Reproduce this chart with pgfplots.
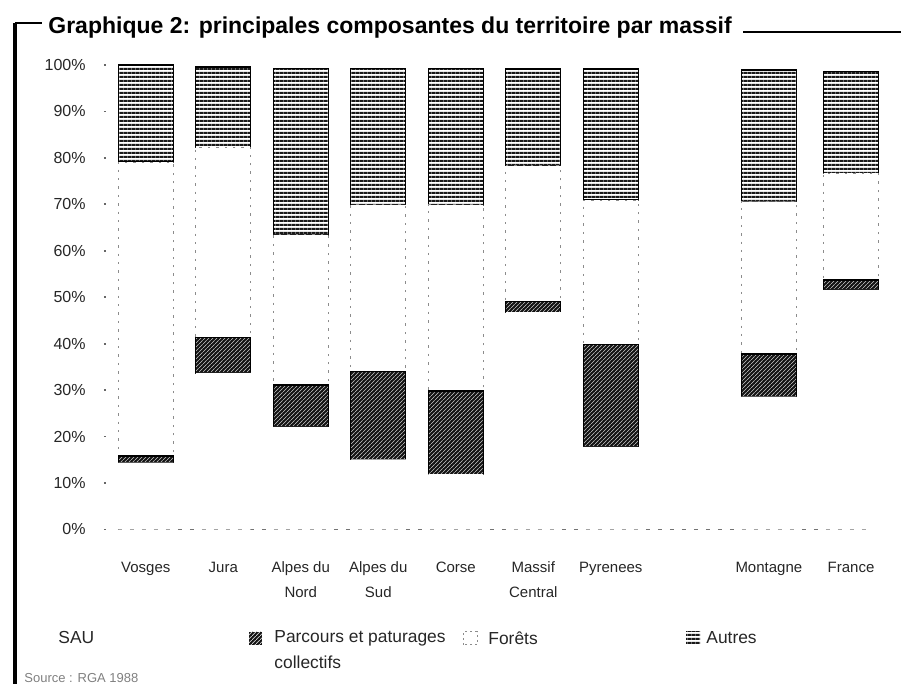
\documentclass[border=0pt]{standalone}
\usepackage{fontspec}
\setmainfont{Liberation Sans}
\usepackage{pgfplots}
\pgfplotsset{compat=1.18}
\usepackage{pgfplotstable}
\usetikzlibrary{patterns,patterns.meta}

\tikzdeclarepattern{
  name=denseh, type=uncolored,
  bottom left={(0pt,0pt)}, top right={(2pt,1.8pt)}, tile size={(2pt,1.8pt)},
  code={\draw[line width=1.1pt] (-0.2pt,0.6pt) -- (2.2pt,0.6pt);}
}
\tikzdeclarepattern{
  name=densediag, type=uncolored,
  bottom left={(0pt,0pt)}, top right={(1.8pt,1.8pt)}, tile size={(1.8pt,1.8pt)},
  code={\draw[line width=0.38pt] (-0.2pt,-0.2pt) -- (2pt,2pt);}
}

\pgfplotstableread{
x sau parc foret aut
0 14.4 1.4 63.3 20.9
1 33.7 7.7 40.9 17.3
2 22.1 9.0 32.3 35.9
3 15.1 18.9 35.9 29.4
4 11.9 17.9 40.1 29.4
5 46.8 2.2 29.3 20.8
6 17.8 22.1 31.0 28.2
8.04 28.6 9.2 32.8 28.3
9.1 51.6 2.1 23.0 21.9
}\data

\begin{document}
\begin{tikzpicture}
\useasboundingbox (0,0) rectangle (450.5pt,342pt);
\begin{axis}[
  at={(52.5pt,77.25pt)}, anchor=south west,
  scale only axis, width=387.5pt, height=232.25pt,
  xmin=-0.526, xmax=9.474, ymin=0, ymax=100,
  ybar stacked, bar width=27.5pt,
  axis lines=left, axis line style={draw=none,-},
  ytick={0,10,...,100},
  yticklabels={0\%,10\%,20\%,30\%,40\%,50\%,60\%,70\%,80\%,90\%,100\%},
  yticklabel style={font=\fontsize{8}{9}\selectfont, text=black!85, anchor=east, inner sep=0pt, xshift=-9pt},
  xtick={0,1,2,3,4,5,6,8.04,9.1},
  xticklabels={Vosges,Jura,Alpes du\\Nord,Alpes du\\Sud,Corse,Massif\\Central,Pyrenees,Montagne,France},
  xticklabel style={font=\fontsize{7.5}{12.5}\selectfont, text=black!85, align=center, anchor=north, inner sep=0pt, yshift=-15.5pt},
  xtick style={draw=none},
  ytick style={black!60, line width=0.9pt},
  major tick length=1pt, tick align=center,
  clip=false,
]
\addplot[fill=white, draw=none] table[x=x,y=sau] {\data};
\addplot[fill=black!92, draw=black, line width=0.6pt, postaction={pattern=densediag, pattern color=white!80!black}] table[x=x,y=parc] {\data};
\addplot[fill=white, draw=black!45, line width=0.5pt, dash pattern=on 1.2pt off 3pt] table[x=x,y=foret] {\data};
\addplot[fill=white, draw=black, line width=0.7pt, postaction={pattern=denseh, pattern color=black!90}] table[x=x,y=aut] {\data};
\draw[black!55, line width=0.6pt, dash pattern=on 2pt off 4pt] (axis cs:-0.36,0) -- (axis cs:9.35,0);
\end{axis}
% frame and title
\draw[line width=1.6pt] (7.5pt,-1pt) -- (7.5pt,330.5pt);
\draw[line width=1pt] (7.5pt,330.5pt) -- (21pt,330.5pt);
\draw[line width=1pt] (371.5pt,326.2pt) -- (451pt,326.2pt);
\node[anchor=base west, inner sep=0pt, font=\bfseries\fontsize{11.5}{13}\selectfont] at (24pt,325pt)
  {Graphique 2: principales composantes du territoire par massif};
% legend
\node[anchor=west, inner sep=0pt, font=\fontsize{8.7}{10}\selectfont, text=black!85] at (29pt,23pt) {SAU};
\fill[black!92] (124.5pt,19.5pt) rectangle (131pt,26pt);
\fill[pattern=densediag, pattern color=white!80!black] (124.5pt,19.5pt) rectangle (131pt,26pt);
\node[anchor=west, inner sep=0pt, font=\fontsize{8.7}{10}\selectfont, text=black!85] at (137pt,23pt) {Parcours et paturages};
\node[anchor=west, inner sep=0pt, font=\fontsize{8.7}{10}\selectfont, text=black!85] at (137pt,11pt) {collectifs};
\draw[black!45, line width=0.5pt, dash pattern=on 1pt off 1.5pt] (231.5pt,19.5pt) rectangle (238.5pt,26pt);
\node[anchor=west, inner sep=0pt, font=\fontsize{8.7}{10}\selectfont, text=black!85] at (244pt,23pt) {Forêts};
\fill[white] (343pt,19.5pt) rectangle (350pt,26pt);
\fill[pattern=denseh, pattern color=black!90] (343pt,19.5pt) rectangle (350pt,26pt);
\node[anchor=west, inner sep=0pt, font=\fontsize{8.7}{10}\selectfont, text=black!85] at (353pt,23pt) {Autres};
\node[anchor=south west, inner sep=0pt, font=\fontsize{6.5}{7}\selectfont, text=black!50] at (12pt,0.6pt) {Source : RGA 1988};
\end{tikzpicture}
\end{document}
